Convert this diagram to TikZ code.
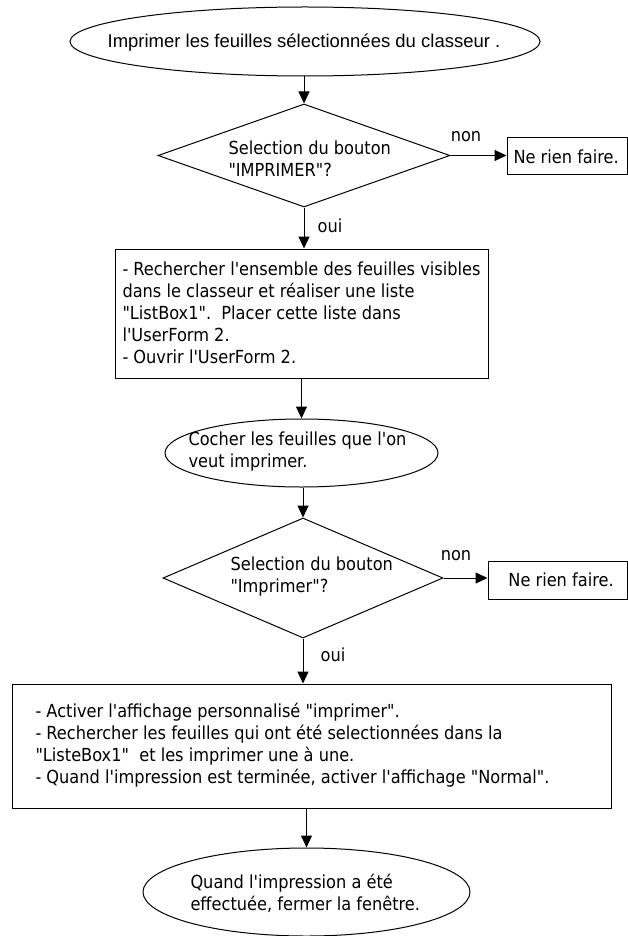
\documentclass[tikz,border=0pt]{standalone}
\usepackage{fontspec}
\newfontfamily\tahoma{DejaVu Sans Condensed}
\newfontfamily\arial{Liberation Sans}
\usetikzlibrary{shapes.geometric,arrows.meta}

\begin{document}
\begin{tikzpicture}[x=1pt,y=-1pt,line width=1pt,>={Triangle[length=12pt,width=11pt]},
    oval/.style={draw,ellipse,inner sep=0pt},
    choice/.style={draw,diamond,inner sep=0pt},
    action/.style={draw,rectangle,inner sep=0pt},
    txt/.style={font=\tahoma\fontsize{18}{22}\selectfont,align=left,inner sep=0pt,anchor=west},
    lbl/.style={font=\tahoma\fontsize{18}{22}\selectfont,inner sep=0pt}]
  \useasboundingbox (0,0) rectangle (628,936);

  % debut
  \node[oval,minimum width=470,minimum height=69] (debut) at (305,41.5) {};
  \node[font=\arial\fontsize{18.5}{22}\selectfont,inner sep=0pt] (debuttxt) at (304,43)
    {Imprimer les feuilles sélectionnées du classeur .};

  % premier choix
  \node[choice,minimum width=292,minimum height=103] (q1) at (304,155.5) {};
  \node[txt] (q1txt) at (228,159) {Selection du bouton\\"IMPRIMER"?};
  \node[action,minimum width=120,minimum height=37] (rien1) at (567,156.5) {};
  \node[txt] (rien1txt) at (513,157) {Ne rien faire.};
  \node[lbl] (non1) at (466,137) {non};
  \node[lbl] (oui1) at (330,226) {oui};

  \node[action,minimum width=373,minimum height=129] (liste) at (301.5,313.5) {};
  \node[txt] (listetxt) at (122,313) {- Rechercher l'ensemble des feuilles visibles\\
    dans le classeur et réaliser une liste\\
    "ListBox1".\ \ Placer cette liste dans\\
    l'UserForm 2.\\
    - Ouvrir l'UserForm 2.};

  \node[oval,minimum width=273,minimum height=68] (cocher) at (301.5,453) {};
  \node[txt] (cochertxt) at (188,452) {Cocher les feuilles que l'on\\veut imprimer.};

  % second choix
  \node[choice,minimum width=280,minimum height=120] (q2) at (303,578) {};
  \node[txt] (q2txt) at (230,577) {Selection du bouton\\"Imprimer"?};
  \node[action,minimum width=139,minimum height=38] (rien2) at (557.5,580) {};
  \node[lbl] (rien2txt) at (561,580) {Ne rien faire.};
  \node[lbl] (non2) at (456,556) {non};
  \node[lbl] (oui2) at (333,655) {oui};

  \node[action,minimum width=599,minimum height=124] (impr) at (311.5,746) {};
  \node[txt] (imprtxt) at (35,745) {- Activer l'affichage personnalisé "imprimer".\\
    - Rechercher les feuilles qui ont été selectionnées dans la\\
    "ListeBox1"\ \ et les imprimer une à une.\\
    - Quand l'impression est terminée, activer l'affichage "Normal".};

  % fin
  \node[oval,minimum width=327,minimum height=88] (fin) at (306.5,892) {};
  \node[txt] (fintxt) at (190,893) {Quand l'impression a été\\effectuée, fermer la fenêtre.};

  % connecteurs
  \draw[->] (q1.north |- debut.south) -- (q1.north);
  \draw[->] (q1.east) -- (q1.east -| rien1.west);
  \draw[->] (q1.south) -- (q1.south |- liste.north);
  \draw[->] (cocher.north |- liste.south) -- (cocher.north);
  \draw[->] (q2.north |- cocher.south) -- (q2.north);
  \draw[->] (q2.east) -- (q2.east -| rien2.west);
  \draw[->] (q2.south) -- (q2.south |- impr.north);
  \draw[->] (fin.north |- impr.south) -- (fin.north);
\end{tikzpicture}
\end{document}
